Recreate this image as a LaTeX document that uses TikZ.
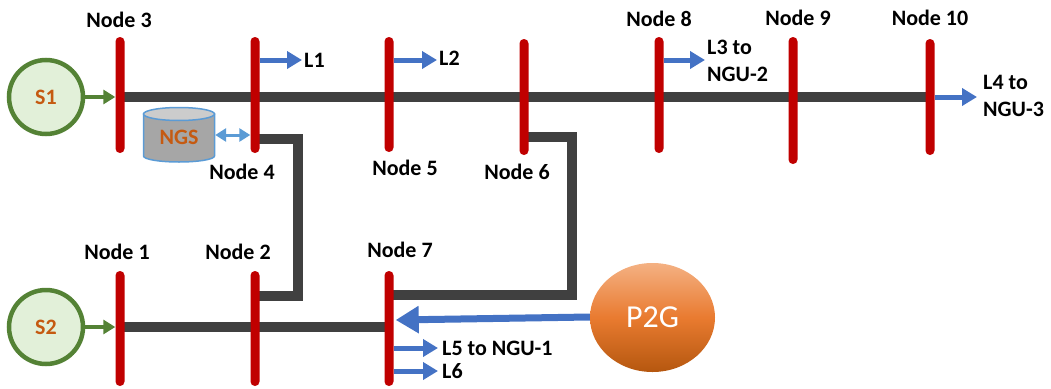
\documentclass[tikz,border=0pt]{standalone}
\usepackage{fontspec}
\setmainfont{Carlito}
\usetikzlibrary{arrows.meta,backgrounds,shapes.geometric}
\definecolor{busred}{HTML}{C00000}
\definecolor{linegray}{HTML}{404040}
\definecolor{loadblue}{HTML}{4472C4}
\definecolor{stoblue}{HTML}{5B9BD5}
\definecolor{srcgreen}{HTML}{548235}
\definecolor{srcfill}{HTML}{E2F0D9}
\definecolor{txtorange}{HTML}{C55A11}
\definecolor{ptop}{HTML}{F4B183}
\definecolor{pmid}{HTML}{E97B30}
\definecolor{pbot}{HTML}{B5570F}
\tikzset{
 busbar/.style={draw=none,fill=busred,rectangle,rounded corners=4.4pt,minimum width=9pt,inner sep=0pt},
 lbl/.style={font=\fontsize{22}{27}\selectfont\bfseries,text=black,inner sep=0pt,align=left},
 pipe/.style={draw=linegray,line width=10.5pt,line join=miter},
 load/.style={draw=loadblue,line width=5pt,-{Triangle[length=15pt,width=17pt]}},
 src/.style={circle,draw=srcgreen,line width=4.5pt,fill=srcfill,minimum size=74pt,inner sep=0pt,text=txtorange,font=\fontsize{22}{26}\selectfont\bfseries},
}
\begin{document}
\begin{tikzpicture}[x=1pt,y=-1pt]
\useasboundingbox (0,0) rectangle (1051,388);
% bars
\node[busbar,minimum height=116pt] (b3) at (120,95) {};
\node[busbar,minimum height=116pt] (b4) at (255,95) {};
\node[busbar,minimum height=115pt] (b5) at (389,94.5) {};
\node[busbar,minimum height=116pt] (b6) at (524,97) {};
\node[busbar,minimum height=116pt] (b8) at (659,95) {};
\node[busbar,minimum height=127pt] (b9) at (793,100.5) {};
\node[busbar,minimum height=116pt] (b10) at (930,97) {};
\node[busbar,minimum height=115pt] (b1) at (120,328.5) {};
\node[busbar,minimum height=115pt] (b2) at (255,328.5) {};
\node[busbar,minimum height=115pt] (b7) at (389,328.5) {};
% bar labels
\node[lbl] (t3) at (119,20) {Node 3};
\node[lbl] (t4) at (242,172) {Node 4};
\node[lbl] (t5) at (405,168) {Node 5};
\node[lbl] (t6) at (517,172) {Node 6};
\node[lbl] (t8) at (659,19) {Node 8};
\node[lbl] (t9) at (798,18) {Node 9};
\node[lbl] (t10) at (930,18) {Node 10};
\node[lbl] (t1) at (117,252) {Node 1};
\node[lbl] (t2) at (238,252) {Node 2};
\node[lbl] (t7) at (400,250) {Node 7};
% sources
\node[src] (s1) at (46,97) {S1};
\node[src] (s2) at (46,327) {S2};
% P2G
\node[ellipse,minimum width=125pt,minimum height=109pt,inner sep=0pt,
  top color=ptop,bottom color=pbot,middle color=pmid,text=white,font=\fontsize{32}{36}\selectfont] (p2g) at (652.5,317.5) {P2G};
% NGS storage
\fill[black!35,draw=stoblue,line width=1.5pt] (143.5,114) -- (143.5,156) arc[start angle=180,end angle=360,x radius=35.5pt,y radius=6pt] -- (214.5,114) -- cycle;
\fill[black!20,draw=stoblue,line width=1.5pt] (179,114) ellipse[x radius=35.5pt,y radius=6.5pt];
\node[minimum width=72pt,minimum height=55pt,inner sep=0pt,text=txtorange,font=\fontsize{22}{26}\selectfont\bfseries] (ngs) at (179,137) {NGS};
% load labels
\node[lbl,anchor=west] (l1) at (304,60) {L1};
\node[lbl,anchor=west] (l2) at (439,58) {L2};
\node[lbl,anchor=west] (l3) at (707,61) {L3 to\\NGU-2};
\node[lbl,anchor=west] (l4) at (983,95.5) {L4 to\\NGU-3};
\node[lbl,anchor=west] (l5) at (442,348) {L5 to NGU-1};
\node[lbl,anchor=west] (l6) at (442,371) {L6};
% named free ends
\coordinate (m) at (0,97);
\coordinate (n) at (0,327);
\coordinate (j4) at (298,139);
\coordinate (j2) at (298,296);
\coordinate (j6) at (572,137);
\coordinate (j7) at (572,295);
\begin{scope}[on background layer]
\draw[pipe] (b3.center |- m) -- (b10.center |- m);
\draw[pipe] (b1.center |- n) -- (b7.center |- n);
\draw[pipe] (b4.center |- j4) -- (j4) -- (j2) -- (b2.center |- j2);
\draw[pipe] (b6.center |- j6) -- (j6) -- (j7) -- (b7.center |- j7);
\end{scope}
% arrows
\draw[srcgreen,line width=4pt,-{Triangle[length=12pt,width=14pt]}] (s1.east) -- (b3.west |- s1);
\draw[srcgreen,line width=4pt,-{Triangle[length=12pt,width=14pt]}] (s2.east) -- (b1.west |- s2);
\draw[stoblue,line width=3pt,{Triangle[length=11pt,width=13pt]}-{Triangle[length=11pt,width=13pt]}] (ngs.east |- 0,135) -- (b4.west |- 0,135);
\draw[load] (b4.east |- l1) -- ([xshift=-2pt]l1.west);
\draw[load] (b5.east |- 0,60) -- ([xshift=-2pt]l2.west |- 0,60);
\draw[load] (b8.east |- 0,60) -- ([xshift=-2pt]l3.west |- 0,60);
\draw[load] (b10.east |- 0,97) -- ([xshift=-6pt]l4.west |- 0,97);
\draw[load] (b7.east |- l5) -- ([xshift=-4pt]l5.west);
\draw[load] (b7.east |- l6) -- ([xshift=-4pt]l6.west);
\draw[draw=loadblue,line width=7pt,-{Triangle[length=23pt,width=26pt]}] (p2g.west |- 0,317) -- ([xshift=2pt]b7.east |- 0,320);
\end{tikzpicture}
\end{document}
